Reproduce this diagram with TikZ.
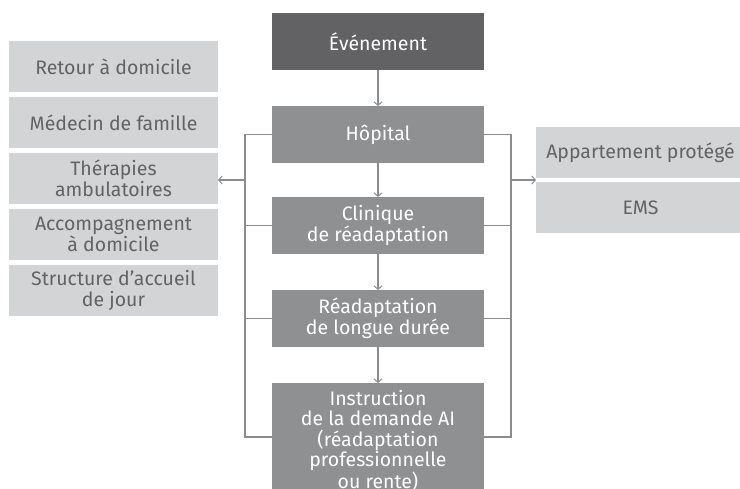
\documentclass[tikz,border=0pt]{standalone}
\usepackage{fontspec}
\setmainfont{Fira Sans}
\usetikzlibrary{arrows.meta}
\definecolor{darkbox}{HTML}{626264}
\definecolor{midbox}{HTML}{8F9092}
\definecolor{lightbox}{HTML}{D3D4D6}
\definecolor{lighttext}{HTML}{626365}
\definecolor{linecol}{HTML}{8C8C8E}
\begin{document}
\begin{tikzpicture}[x=1pt,y=-1pt,
  box/.style={draw=none, inner sep=0pt, outer sep=0pt, align=center,
              font=\fontsize{19.5}{20.5}\selectfont},
  mainbox/.style={box, fill=midbox, text=white, minimum width=212pt, minimum height=57pt, anchor=north west},
  sidebox/.style={box, fill=lightbox, text=lighttext, minimum width=209pt, minimum height=51pt, anchor=north west},
  conn/.style={draw=linecol, line width=1.1pt},
  arr/.style={conn, -{Straight Barb[length=3.5pt,width=8pt,line width=1pt]}}
]
\useasboundingbox (0,0) rectangle (740,488);
% central column
\node[mainbox, fill=darkbox] (ev) at (272,13) {Événement};
\node[mainbox] (hop) at (272,106) {Hôpital};
\node[mainbox] (cli) at (272,197) {Clinique\\de réadaptation};
\node[mainbox] (rea) at (272,290) {Réadaptation\\de longue durée};
\node[mainbox, minimum height=115pt] (ins) at (272,383) {Instruction\\de la demande AI\\(réadaptation\\professionnelle\\ou rente)};
% left column
\node[sidebox] (ret) at (9,41) {Retour à domicile};
\node[sidebox] (med) at (9,97) {Médecin de famille};
\node[sidebox] (the) at (9,153) {Thérapies\\ambulatoires};
\node[sidebox] (acc) at (9,209) {Accompagnement\\à domicile};
\node[sidebox] (str) at (9,265) {Structure d’accueil\\de jour};
% right column
\node[sidebox] (app) at (536,127) {Appartement protégé};
\node[sidebox] (ems) at (536,182) {EMS};
% vertical arrows
\draw[arr] (ev.south) -- (hop.north);
\draw[arr] (hop.south) -- (cli.north);
\draw[arr] (cli.south) -- (rea.north);
\draw[arr] (rea.south) -- (ins.north);
% brackets
\coordinate (L) at (245,180);
\coordinate (R) at (511,180);
\coordinate (insl) at ([yshift=3.5pt]ins.west);
\coordinate (insr) at ([yshift=3.5pt]ins.east);
\draw[conn] (hop.west) -| (L |- insl) -- (insl);
\draw[conn] (cli.west) -- (cli.west -| L);
\draw[conn] (rea.west) -- (rea.west -| L);
\draw[arr] (L) -- (L -| the.east);
\draw[conn] (hop.east) -| (R |- insr) -- (insr);
\draw[conn] (cli.east) -- (cli.east -| R);
\draw[conn] (rea.east) -- (rea.east -| R);
\draw[arr] (R) -- (R -| app.west);
\end{tikzpicture}
\end{document}
